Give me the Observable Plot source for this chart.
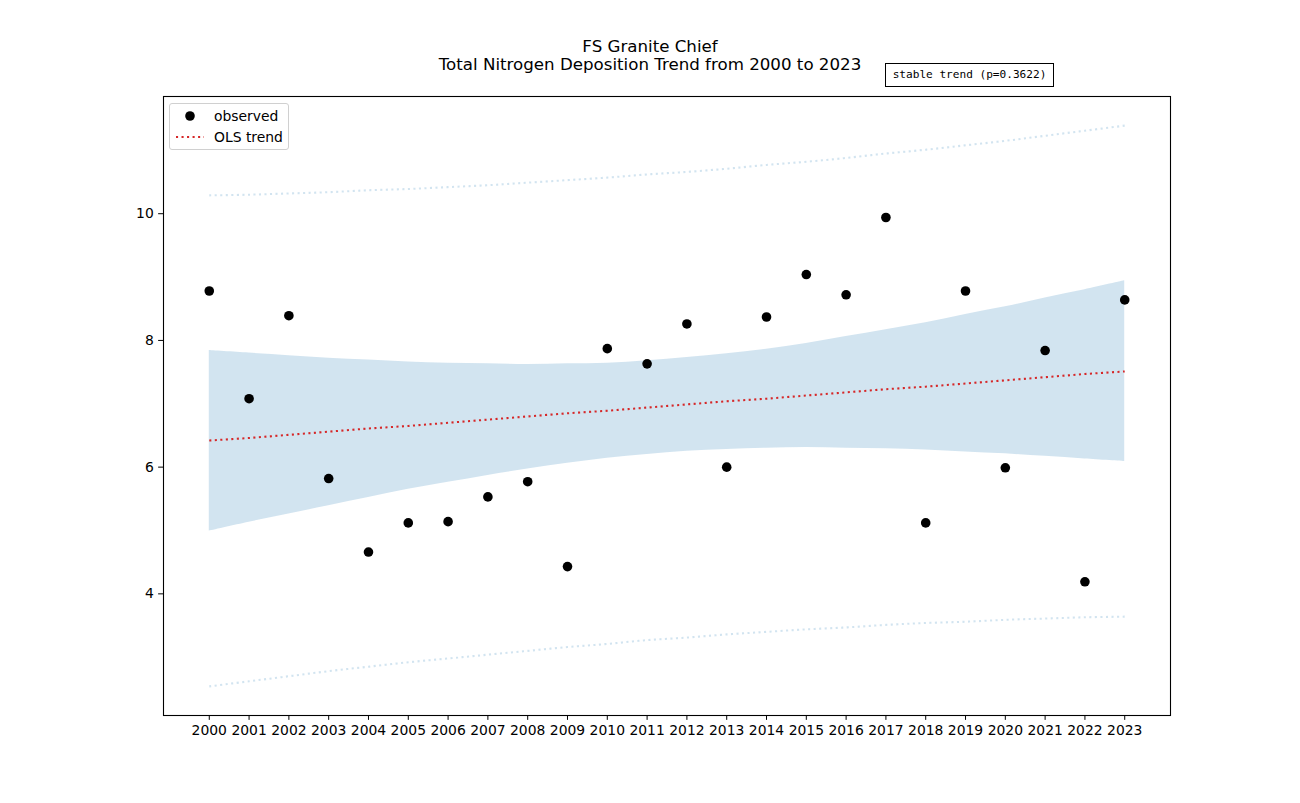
<!DOCTYPE html>
<html>
<head>
<meta charset="utf-8">
<script src="https://cdn.jsdelivr.net/npm/d3@7"></script>
<script src="https://cdn.jsdelivr.net/npm/@observablehq/plot@0.6"></script>
<style>
  body { margin: 0; background: #fff; }
  #wrap { position: relative; width: 1300px; height: 803px; font-family: "DejaVu Sans", sans-serif; color: #000; }
  .tline { position: absolute; left: 0; width: 1300px; text-align: center; font-size: 16.67px; line-height: 20px; white-space: nowrap; }
  #badge { position: absolute; left: 885px; top: 63px; width: 167px; height: 22px; border: 1px solid #000; background: #fff;
           font-family: "DejaVu Sans Mono", monospace; font-size: 11.1px; line-height: 22px; text-align: center; white-space: nowrap; }
  #legend { position: absolute; left: 169px; top: 103px; width: 118px; height: 45px; border: 1px solid #d0d0d0; border-radius: 3px;
            background: rgba(255,255,255,0.8); font-size: 13.9px; }
  #legend svg { position: absolute; left: 0; top: 0; }
  #legend .lab { position: absolute; left: 44px; line-height: 16px; white-space: nowrap; }
  #chart { position: absolute; left: 0; top: 0; }
</style>
</head>
<body>
<div id="wrap">
  <div id="chart"></div>
  <div class="tline" style="top:37px">FS Granite Chief</div>
  <div class="tline" style="top:55px">Total Nitrogen Deposition Trend from 2000 to 2023</div>
  <div id="badge">stable trend (p=0.3622)</div>
  <div id="legend">
    <svg width="118" height="45">
      <circle cx="20" cy="12" r="4.8" fill="#000"></circle>
      <line x1="6" x2="34" y1="33" y2="33" stroke="#d62728" stroke-width="2.08" stroke-dasharray="2.08 3.44" stroke-linecap="butt"></line>
    </svg>
    <div class="lab" style="top:4px">observed</div>
    <div class="lab" style="top:25px">OLS trend</div>
  </div>
</div>
<script>
const years    = [2000,2001,2002,2003,2004,2005,2006,2007,2008,2009,2010,2011,2012,2013,2014,2015,2016,2017,2018,2019,2020,2021,2022,2023];
const observed = [8.78,7.08,8.39,5.82,4.66,5.12,5.14,5.53,5.77,4.43,7.87,7.63,8.26,6.00,8.37,9.04,8.72,9.94,5.12,8.78,5.99,7.84,4.19,8.64];
const trend    = [6.42,6.46,6.51,6.56,6.61,6.65,6.70,6.75,6.80,6.85,6.89,6.94,6.99,7.04,7.08,7.13,7.18,7.23,7.27,7.32,7.37,7.42,7.47,7.51];
const ciLow    = [4.99,5.13,5.26,5.39,5.52,5.65,5.76,5.87,5.97,6.06,6.14,6.20,6.25,6.28,6.30,6.31,6.30,6.29,6.27,6.24,6.21,6.17,6.13,6.09];
const ciHigh   = [7.84,7.80,7.76,7.72,7.69,7.66,7.64,7.63,7.62,7.63,7.64,7.68,7.73,7.79,7.86,7.95,8.06,8.17,8.28,8.41,8.53,8.67,8.80,8.94];
const piLow    = [2.54,2.62,2.70,2.78,2.85,2.92,2.98,3.04,3.10,3.16,3.21,3.27,3.31,3.36,3.40,3.44,3.47,3.51,3.54,3.56,3.59,3.61,3.63,3.64];
const piHigh   = [10.29,10.30,10.32,10.34,10.37,10.39,10.42,10.45,10.49,10.53,10.57,10.62,10.66,10.71,10.77,10.82,10.88,10.95,11.01,11.08,11.15,11.23,11.31,11.39];
const yTicks   = [4,6,8,10];

const rows = years.map((year, i) => ({
  year, observed: observed[i], trend: trend[i],
  ciLow: ciLow[i], ciHigh: ciHigh[i], piLow: piLow[i], piHigh: piHigh[i]
}));

const dotted = "2.08 3.44";
const lineOpts = { strokeWidth: 2.08, strokeDasharray: dotted, strokeLinecap: "butt" };
const chart = Plot.plot({
  width: 1300,
  height: 803,
  marginLeft: 163, marginRight: 130, marginTop: 96, marginBottom: 88,
  style: { fontFamily: "DejaVu Sans, sans-serif", fontSize: "13.9px", color: "#000", background: "transparent" },
  x: { domain: [1998.85, 2024.15], ticks: years, tickFormat: "d", tickSize: 4.86, tickPadding: 4.86, label: null },
  y: { domain: [2.08, 11.85], ticks: yTicks, tickSize: 4.86, tickPadding: 4.86, label: null },
  marks: [
    Plot.areaY(rows, { x: "year", y1: "ciLow", y2: "ciHigh", fill: "#1f77b4", fillOpacity: 0.2, curve: "catmull-rom" }),
    Plot.line(rows, { x: "year", y: "piLow", stroke: "#1f77b4", strokeOpacity: 0.2, curve: "catmull-rom", ...lineOpts }),
    Plot.line(rows, { x: "year", y: "piHigh", stroke: "#1f77b4", strokeOpacity: 0.2, curve: "catmull-rom", ...lineOpts }),
    Plot.line(rows, { x: "year", y: "trend", stroke: "#d62728", ...lineOpts }),
    Plot.dot(rows, { x: "year", y: "observed", r: 4.8, fill: "#000", stroke: "none" }),
    Plot.frame({ stroke: "#000", strokeWidth: 1.1 })
  ]
});
document.getElementById("chart").appendChild(chart);
</script>
</body>
</html>
